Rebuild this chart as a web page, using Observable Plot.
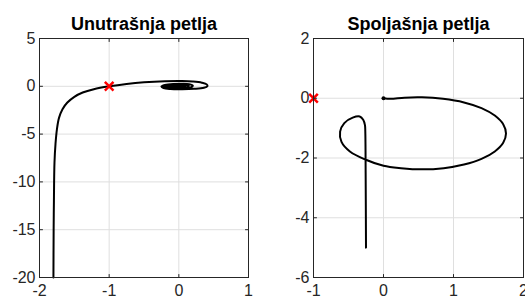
<!DOCTYPE html>
<html>
<head>
<meta charset="utf-8">
<script src="https://cdn.jsdelivr.net/npm/d3@7"></script>
<script src="https://cdn.jsdelivr.net/npm/@observablehq/plot@0.6"></script>
<style>
  html, body { margin: 0; padding: 0; background: #fff; }
  #row { display: flex; flex-direction: row; width: 525px; height: 300px; overflow: hidden; }
  #row svg { overflow: visible; }
</style>
</head>
<body>
<div id="row"></div>
<script>
// ---- Data ----
const titleLeft = "Unutrašnja petlja";
const titleRight = "Spoljašnja petlja";

const leftXTicks = [-2, -1, 0, 1];
const leftYTicks = [-20, -15, -10, -5, 0, 5];
const rightXTicks = [-1, 0, 1, 2];
const rightYTicks = [-6, -4, -2, 0, 2];

// inner-loop trajectory
const innerX = [-1.80, -1.797, -1.793, -1.785, -1.77, -1.75, -1.72, -1.67, -1.60, -1.50, -1.38, -1.22, -1.00, -0.75, -0.50, -0.20, 0.05, 0.20,
  0.33, 0.40, 0.41, 0.36, 0.22, 0.05, -0.12, -0.22, -0.25, -0.20, -0.08, 0.05,
  0.15, 0.20, 0.18, 0.08, -0.05, -0.17, -0.23, -0.18, -0.06, 0.05,
  0.14, 0.13, 0.04, -0.06, -0.16, -0.19, -0.12, -0.02, 0.07,
  0.09, 0.02, -0.07, -0.14, -0.11, -0.04, 0.03, 0.01, -0.05, -0.04];
const innerY = [-20, -15, -12, -8, -6, -4.5, -3.3, -2.4, -1.7, -1.1, -0.65, -0.3, 0.0, 0.25, 0.42, 0.53, 0.55, 0.50,
  0.38, 0.20, 0.02, -0.15, -0.26, -0.30, -0.28, -0.18, -0.02, 0.14, 0.25, 0.27,
  0.22, 0.08, -0.08, -0.20, -0.24, -0.17, -0.03, 0.11, 0.18, 0.17,
  0.07, -0.06, -0.15, -0.17, -0.10, 0.01, 0.10, 0.12, 0.07,
  -0.03, -0.10, -0.11, -0.04, 0.04, 0.06, 0.02, -0.04, -0.04, 0.0];

// outer-loop trajectory
const outerX = [0.0, 0.1, 0.3, 0.55, 0.85, 1.15, 1.40, 1.59, 1.71, 1.75, 1.71, 1.59, 1.40, 1.15, 0.86, 0.55, 0.25, 0.0, -0.26, -0.48, -0.60, -0.62, -0.56, -0.44, -0.34, -0.29, -0.265, -0.26, -0.255, -0.25];
const outerY = [0.0, -0.02, 0.02, 0.03, -0.02, -0.14, -0.33, -0.58, -0.87, -1.18, -1.49, -1.78, -2.03, -2.22, -2.34, -2.38, -2.34, -2.26, -2.05, -1.78, -1.46, -1.12, -0.83, -0.65, -0.61, -0.72, -0.90, -1.11, -2.5, -5.0];

const markerX = [-1];
const markerY = [0];
const startDotX = [0];
const startDotY = [0];

// ---- Drawing ----
const FONT = "'Liberation Sans', Arial, Helvetica, sans-serif";
const AXC = "#262626";
const tickShape = { draw(ctx, l) { ctx.moveTo(0, 0); ctx.lineTo(0, -l); } };

function boxTicks(xt, yt) {
  const o = { length: 3, anchor: "start", shape: tickShape, stroke: AXC, strokeWidth: 1 };
  return [
    Plot.vector(xt, { x: d => d, frameAnchor: "bottom", rotate: 0, ...o }),
    Plot.vector(xt, { x: d => d, frameAnchor: "top", rotate: 180, ...o }),
    Plot.vector(yt, { y: d => d, frameAnchor: "left", rotate: 90, ...o }),
    Plot.vector(yt, { y: d => d, frameAnchor: "right", rotate: -90, ...o })
  ];
}

function panel({ width, ml, mr, xd, yd, xt, yt, title, xs, ys, extra }) {
  const pts = xs.map((x, i) => ({ x, y: ys[i] }));
  return Plot.plot({
    width, height: 300,
    marginLeft: ml, marginRight: mr, marginTop: 38, marginBottom: 23,
    style: { fontFamily: FONT, fontSize: "16px", overflow: "visible", background: "transparent" },
    x: { domain: xd, ticks: xt },
    y: { domain: yd, ticks: yt },
    marks: [
      Plot.gridX(xt, { stroke: "#dfdfdf", strokeOpacity: 1 }),
      Plot.gridY(yt, { stroke: "#dfdfdf", strokeOpacity: 1 }),
      Plot.axisX(xt, { tickSize: 0, tickPadding: 7, tickFormat: d => String(d), fill: AXC, label: null }),
      Plot.axisY(yt, { tickSize: 0, tickPadding: 4, tickFormat: d => String(d), fill: AXC, label: null }),
      Plot.line(pts, { x: "x", y: "y", stroke: "black", strokeWidth: 2, curve: "catmull-rom" }),
      ...extra,
      Plot.frame({ stroke: AXC, strokeWidth: 1 }),
      ...boxTicks(xt, yt),
      Plot.text([title], { frameAnchor: "top", dy: -9, lineAnchor: "bottom", fontSize: 18, fontWeight: "bold", fill: "black" })
    ]
  });
}

const left = panel({
  width: 262, ml: 39, mr: 14,
  xd: [-2, 1], yd: [-20, 5], xt: leftXTicks, yt: leftYTicks,
  title: titleLeft, xs: innerX, ys: innerY,
  extra: [
    Plot.dot(markerX.map((x, i) => ({ x, y: markerY[i] })), { x: "x", y: "y", symbol: "times", r: 4, stroke: "red", strokeWidth: 2.5 })
  ]
});

const right = panel({
  width: 263, ml: 51, mr: 2,
  xd: [-1, 2], yd: [-6, 2], xt: rightXTicks, yt: rightYTicks,
  title: titleRight, xs: outerX, ys: outerY,
  extra: [
    Plot.dot(startDotX.map((x, i) => ({ x, y: startDotY[i] })), { x: "x", y: "y", r: 2, fill: "black" }),
    Plot.dot(markerX.map((x, i) => ({ x, y: markerY[i] })), { x: "x", y: "y", symbol: "times", r: 4, stroke: "red", strokeWidth: 2.5 })
  ]
});

const row = document.getElementById("row");
row.appendChild(left);
row.appendChild(right);
</script>
</body>
</html>
